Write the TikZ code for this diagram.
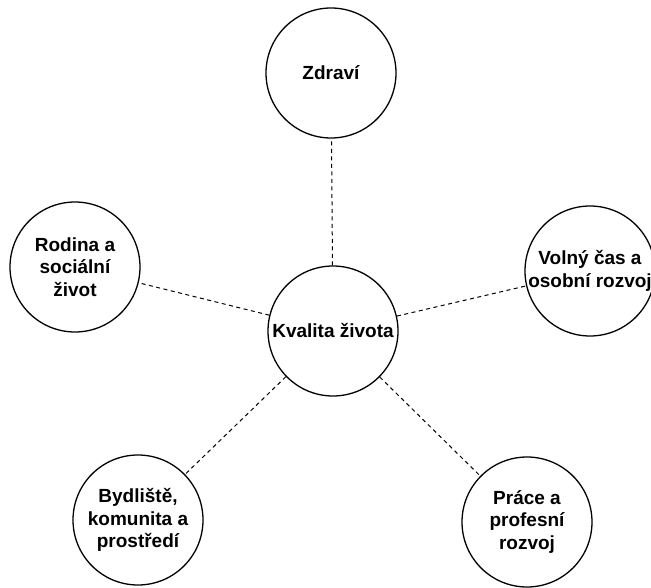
\documentclass[tikz,border=0pt]{standalone}
\usepackage{fontspec}
\setmainfont{Liberation Sans}
\begin{document}
\begin{tikzpicture}[x=1pt,y=-1pt,auto,
	thin,main node/.style = {circle,draw,line width=1.3pt,fill=white,inner sep=0pt,minimum size=130pt,
	align=center,font=\fontsize{19}{22.5}\selectfont\bfseries}]
	\useasboundingbox (0,0) rectangle (651,588);
	\node[main node] (1) at (333,331) {Kvalita života};
	\node[main node] (2) at (331,73) {Zdraví};
	\node[main node] (3) at (75,267) {Rodina a\\sociální\\život};
	\node[main node] (4) at (590,271) {Volný čas a\\osobní rozvoj};
	\node[main node] (5) at (138,520) {Bydliště,\\komunita a\\prostředí};
	\node[main node] (6) at (527,522) {Práce a\\profesní\\rozvoj};
	
	\path[-,dashed,line width=1pt,dash pattern=on 4pt off 3.5pt]
	(1) edge node {} (2)
	edge node {} (3)
	edge node {} (4)
	edge node {} (5)
	edge node {} (6);
\end{tikzpicture}
\end{document}
